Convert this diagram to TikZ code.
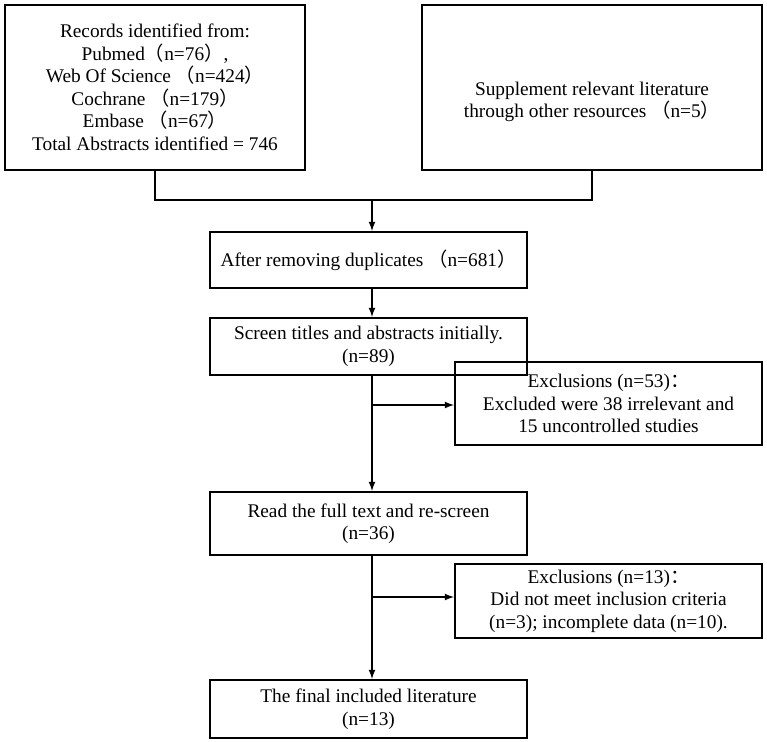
\documentclass[tikz,border=0pt]{standalone}
\usepackage{fontspec}
\setmainfont{Liberation Serif}
\newfontfamily\cjk{Noto Sans CJK SC}
\newcommand{\lp}{{\cjk （}}
\newcommand{\rp}{{\cjk ）}}
\newcommand{\fc}{{\cjk ：}}
\usetikzlibrary{arrows,positioning}

\begin{document}
\begin{tikzpicture}[x=0.02cm,y=-0.02cm,>=latex,thick,
	box/.style={draw=black,line width=1.2pt,align=center,inner sep=2pt,
		font=\fontsize{11}{12.8}\selectfont}]
	\useasboundingbox (0,0) rectangle (767,741);

	\node[box] (rec) at (155,87.5) [minimum width=6cm,minimum height=3.3cm]
		{Records identified from:\\Pubmed\lp n=76\rp,\\Web Of Science \lp n=424\rp\\Cochrane \lp n=179\rp\\Embase \lp n=67\rp\\Total Abstracts identified = 746};
	\node[box,text height=1.3cm] (sup) at (592,87.5) [minimum width=6.8cm,minimum height=3.3cm]
		{Supplement relevant literature\\through other resources \lp n=5\rp};
	\node[box,align=left] (dup) at (368.5,260) [minimum width=6.34cm,minimum height=1.12cm]
		{After removing duplicates \lp n=681\rp};
	\node[box] (scr) at (368.5,346.5) [minimum width=6.34cm,minimum height=1.14cm]
		{Screen titles and abstracts initially.\\(n=89)};
	\node[box] (ex1) at (608.5,403.5) [minimum width=6.14cm,minimum height=1.66cm]
		{Exclusions (n=53)\fc\\Excluded were 38 irrelevant and\\15 uncontrolled studies};
	\node[box] (full) at (368.5,523.5) [minimum width=6.34cm,minimum height=1.26cm]
		{Read the full text and re-screen\\(n=36)};
	\node[box] (ex2) at (608.5,601) [minimum width=6.14cm,minimum height=1.48cm]
		{Exclusions (n=13)\fc\\Did not meet inclusion criteria\\(n=3); incomplete data (n=10).};
	\node[box] (fin) at (368.5,709) [minimum width=6.34cm,minimum height=1.16cm]
		{The final included literature\\(n=13)};

	\coordinate (join) at (372,200);
	\coordinate (br1) at (372,405);
	\coordinate (br2) at (372,597);

	\draw (rec.south) |- (join) -| (sup.south);
	\draw[->] (join) -- (join |- dup.north);
	\draw[->] (join |- dup.south) -- (join |- scr.north);
	\draw[->] (join |- scr.south) -- (join |- full.north);
	\draw[->] (br1) -- (br1 -| ex1.west);
	\draw[->] (join |- full.south) -- (join |- fin.north);
	\draw[->] (br2) -- (br2 -| ex2.west);
\end{tikzpicture}
\end{document}
